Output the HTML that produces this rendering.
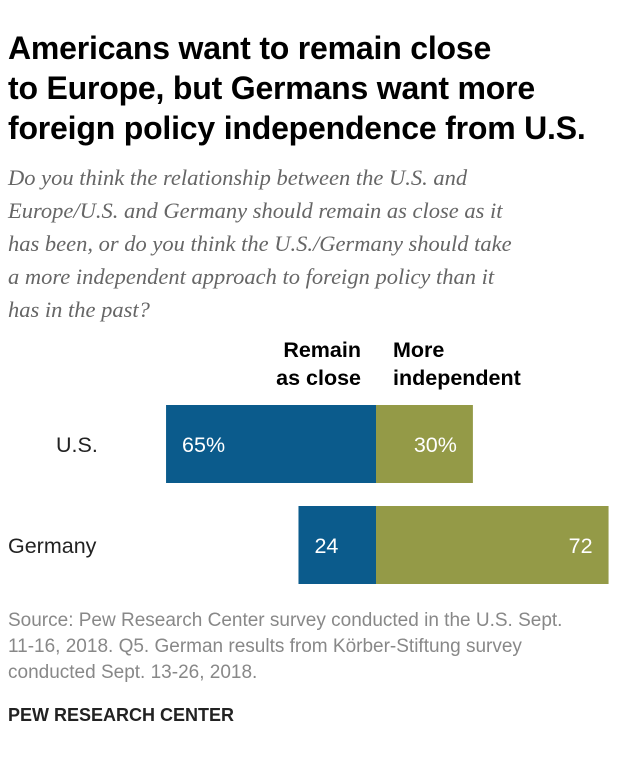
<!DOCTYPE html>
<html><head><meta charset="utf-8"><style>
body{margin:0;width:620px;height:762px;background:#fff;font-family:"Liberation Sans",sans-serif;position:relative;overflow:hidden}
.t{position:absolute;left:8px;top:28px;font-size:32px;font-weight:bold;line-height:40px;color:#000;letter-spacing:-0.2px}
.s{position:absolute;left:8px;top:161px;font-family:"Liberation Serif",serif;font-style:italic;font-size:22.5px;line-height:33px;color:#666;white-space:nowrap}
.src{position:absolute;left:8px;top:608px;font-size:19px;line-height:26px;color:#888;white-space:nowrap}
.pew{position:absolute;left:8px;top:705px;font-size:18px;font-weight:bold;color:#222}
</style></head><body>
<div class="t">Americans want to remain close<br>to Europe, but Germans want more<br>foreign policy independence from U.S.</div>
<div class="s">Do you think the relationship between the U.S. and<br>Europe/U.S. and Germany should remain as close as it<br>has been, or do you think the U.S./Germany should take<br>a more independent approach to foreign policy than it<br>has in the past?</div>
<svg id="c" width="620" height="600" style="position:absolute;left:0;top:0"></svg>
<div class="src">Source: Pew Research Center survey conducted in the U.S. Sept.<br>11-16, 2018. Q5. German results from Körber-Stiftung survey<br>conducted Sept. 13-26, 2018.</div>
<div class="pew">PEW RESEARCH CENTER</div>
<script>
const categories=["U.S.","Germany"];
const remainClose=[65,24];
const moreIndependent=[30,72];
const remainLabels=["65%","24"];
const indepLabels=["30%","72"];
const svg=document.getElementById('c');
const NS="http://www.w3.org/2000/svg";
const cx=376,k=3.23;
function x(v){return v*k;}
function y(i){return 405+i*101;}
const bh=78;
function el(t,a,txt){const e=document.createElementNS(NS,t);for(const p in a)e.setAttribute(p,a[p]);if(txt!==undefined)e.textContent=txt;svg.appendChild(e);return e;}
const h1=el('text',{x:361,y:357,'text-anchor':'end','font-size':21.5,'font-weight':'bold','font-family':'Liberation Sans'});
h1.innerHTML='<tspan x="361">Remain</tspan><tspan x="361" dy="28">as close</tspan>';


const h2=el('text',{x:393,y:357,'font-size':21.5,'font-weight':'bold','font-family':'Liberation Sans'});
h2.innerHTML='<tspan x="393">More</tspan><tspan x="393" dy="28">independent</tspan>';


categories.forEach((c,i)=>{
 const yy=y(i);
 const lb=el('text',{x:i==0?56:8,y:yy+bh/2+8,'font-size':21.5,fill:'#222','font-family':'Liberation Sans'},c);
 
 
 const w1=x(remainClose[i]);
 const r1=el('rect',{x:cx-w1,y:yy,width:w1,height:bh,fill:'#0b5b8c'});
 
 
 const w2=x(moreIndependent[i]);
 const r2=el('rect',{x:cx,y:yy,width:w2,height:bh,fill:'#949a47'});
 
 
 const t1=el('text',{x:cx-w1+16,y:yy+bh/2+8,'font-size':21.5,fill:'#fff','font-family':'Liberation Sans'},remainLabels[i]);
 
 
 const t2=el('text',{x:cx+w2-16,y:yy+bh/2+8,'text-anchor':'end','font-size':21.5,fill:'#fff','font-family':'Liberation Sans'},indepLabels[i]);
 
 
});
</script>
</body></html>
